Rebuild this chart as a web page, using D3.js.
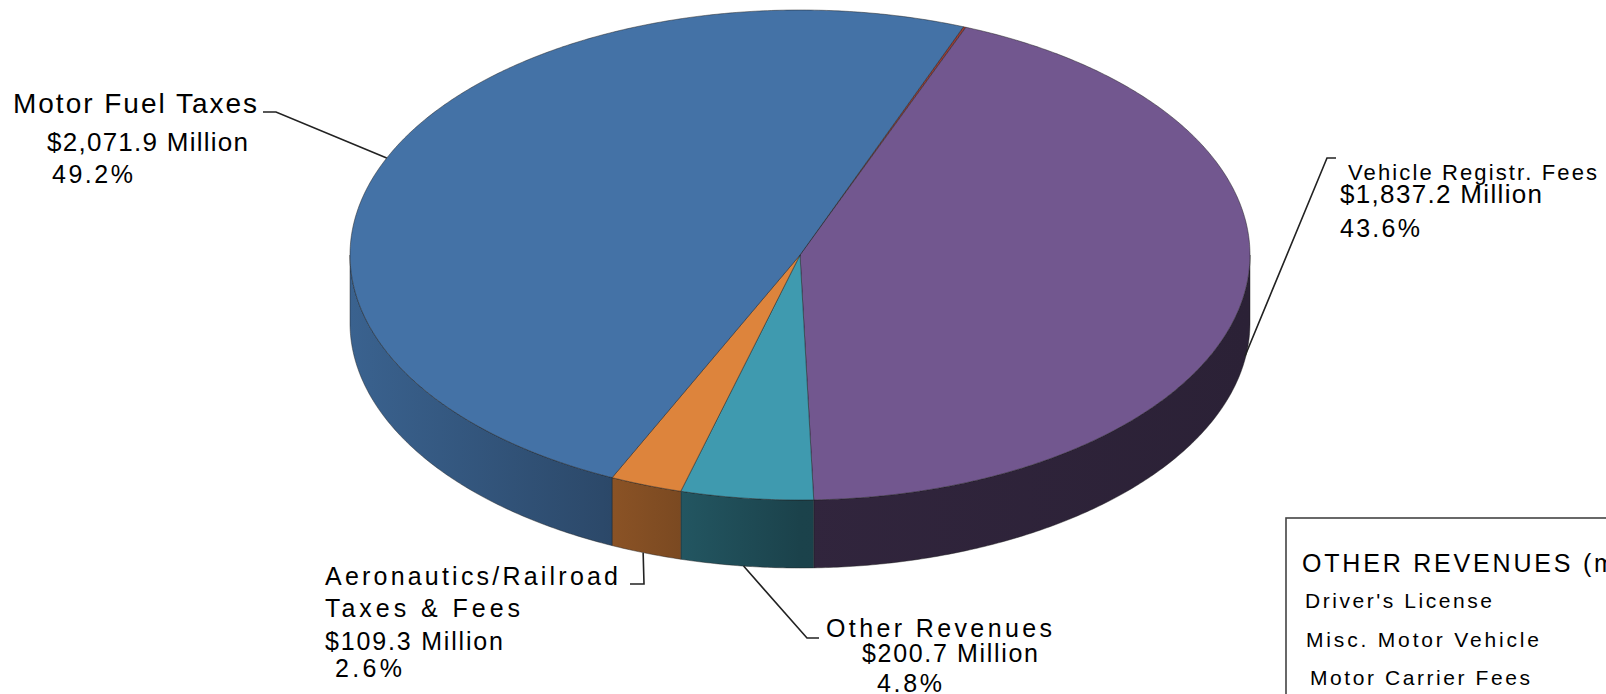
<!DOCTYPE html>
<html>
<head>
<meta charset="utf-8">
<script src="https://cdn.jsdelivr.net/npm/d3@7/dist/d3.min.js"></script>
<style>
  html, body { margin: 0; padding: 0; background: #fff; }
  svg { display: block; font-family: "Liberation Sans", Arial, sans-serif; }
</style>
</head>
<body>
<div id="chart"></div>
<script>
// slices, clockwise from the thin unlabeled sliver at the top
const categories = ["Unlabeled", "Vehicle Registr. Fees", "Other Revenues", "Aeronautics/Railroad Taxes & Fees", "Motor Fuel Taxes"];
const values = [4.0, 1837.2, 200.7, 109.3, 2071.9];           // $ million
const percents = [null, "43.6%", "4.8%", "2.6%", "49.2%"];
const amounts = [null, "$1,837.2 Million", "$200.7 Million", "$109.3 Million", "$2,071.9 Million"];
const colors = ["#9b3b33", "#72578f", "#3f9aaf", "#dd843c", "#4472a6"];

const legendTitle = "OTHER REVENUES (millions)";
const legendItems = ["Driver's License", "Misc. Motor Vehicle", "Motor Carrier Fees"];

const width = 1606, height = 694;
const cx = 800, cy = 255, rx = 450, ry = 245, depth = 68;
const rad = Math.PI / 180;

const svg = d3.select("#chart").append("svg")
    .attr("width", width)
    .attr("height", height);

const defs = svg.append("defs");

const pie = d3.pie().sort(null).value(d => d)
    .startAngle(21.3 * rad)
    .endAngle(21.3 * rad + 2 * Math.PI);
const arcs = pie(values);

// point on the pie rim for angle a (clockwise from 12 o'clock), dz pixels down
const pt = (a, dz = 0) => [cx + rx * Math.sin(a), cy - ry * Math.cos(a) + dz];
const line = d3.line();

function arcPoints(a0, a1, dz) {
    const n = Math.max(2, Math.ceil((a1 - a0) / (0.5 * rad)));
    return d3.range(n + 1).map(i => pt(a0 + (a1 - a0) * i / n, dz));
}

// side shading: lighter at left, darker to the right
const shade = [[0, 0.86], [0.28, 0.64], [0.5, 0.43], [1, 0.38]];
colors.forEach((c, i) => {
    const g = defs.append("linearGradient")
        .attr("id", "side" + i)
        .attr("gradientUnits", "userSpaceOnUse")
        .attr("x1", cx - rx).attr("x2", cx + rx)
        .attr("y1", 0).attr("y2", 0);
    const base = d3.rgb(c);
    shade.forEach(([o, f]) => {
        g.append("stop").attr("offset", o)
            .attr("stop-color", d3.rgb(base.r * f, base.g * f, base.b * f));
    });
});

// outer walls (front half only)
const sides = svg.append("g");
arcs.forEach((d, i) => {
    [[90, 270], [450, 630]].forEach(([lo, hi]) => {
        const a0 = Math.max(d.startAngle, lo * rad);
        const a1 = Math.min(d.endAngle, hi * rad);
        if (a1 <= a0) return;
        const top = arcPoints(a0, a1, 0);
        const bottom = arcPoints(a0, a1, depth).reverse();
        sides.append("path")
            .attr("d", line(top.concat(bottom)) + "Z")
            .attr("fill", `url(#side${i})`)
            .attr("stroke", "#1d1d1d")
            .attr("stroke-opacity", 0.55)
            .attr("stroke-width", 0.8);
    });
});

// top faces
const tops = svg.append("g");
arcs.forEach((d, i) => {
    const pts = [[cx, cy]].concat(arcPoints(d.startAngle, d.endAngle, 0));
    tops.append("path")
        .attr("d", line(pts) + "Z")
        .attr("fill", colors[i])
        .attr("stroke", "#1d1d1d")
        .attr("stroke-opacity", 0.6)
        .attr("stroke-width", 0.8)
        .attr("stroke-linejoin", "round");
});

// labels and leader lines
const labels = svg.append("g").attr("fill", "#000");

function textLine(x, y, str, size, len) {
    const t = labels.append("text")
        .attr("x", x).attr("y", y)
        .attr("font-size", size)
        .text(str);
    if (len) t.attr("textLength", len).attr("lengthAdjust", "spacing");
    return t;
}

function leader(points) {
    svg.append("path")
        .attr("d", line(points))
        .attr("fill", "none")
        .attr("stroke", "#222")
        .attr("stroke-width", 1.6);
}

// Motor Fuel Taxes
textLine(13, 113, categories[4], 28, 244);
textLine(47, 151, amounts[4], 26, 201);
textLine(52, 183, percents[4], 25, 81);
leader([[263, 112], [276, 112], pt(293.3 * rad)]);

// Vehicle Registr. Fees
textLine(1348, 180, categories[1], 22, 249);
textLine(1340, 203, amounts[1], 26, 202);
textLine(1340, 237, percents[1], 25, 80);
leader([[1336, 158], [1327, 158], pt(98.6 * rad, depth * 0.95)]);

// Aeronautics/Railroad
textLine(325, 585, "Aeronautics/Railroad", 25, 293);
textLine(325, 617, "Taxes & Fees", 25, 195);
textLine(325, 650, amounts[3], 25, 178);
textLine(335, 677, percents[3], 25, 67);
leader([[630, 584], [644, 584], pt(200.4 * rad, depth)]);

// Other Revenues
textLine(826, 637, categories[2], 25, 226);
textLine(862, 662, amounts[2], 25, 176);
textLine(877, 692, percents[2], 25, 65);
leader([pt(187.2 * rad, depth), [807, 638], [819, 638]]);

// legend box (runs off the right/bottom edge)
svg.append("rect")
    .attr("x", 1286).attr("y", 518)
    .attr("width", 400).attr("height", 300)
    .attr("fill", "none")
    .attr("stroke", "#444")
    .attr("stroke-width", 1.6);

labels.append("text")
    .attr("x", 1302).attr("y", 572)
    .attr("font-size", 25)
    .attr("letter-spacing", 2.8)
    .text(legendTitle);

const legendX = [1305, 1306, 1310];
const legendY = d3.scalePoint().domain(legendItems).range([608, 685]);
const legendLen = [187, 233, 220];
legendItems.forEach((s, i) => textLine(legendX[i], legendY(s), s, 21, legendLen[i]));
</script>
</body>
</html>
